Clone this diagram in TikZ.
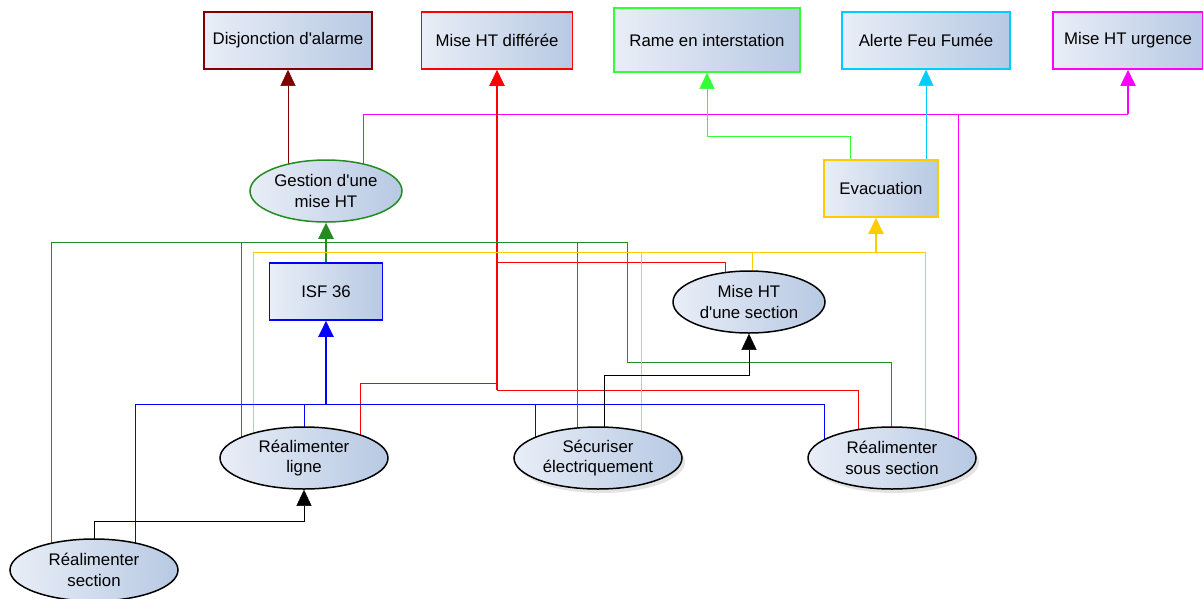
\documentclass[tikz,border=0pt]{standalone}
\usepackage{fontspec}
\setmainfont{Liberation Sans}
\usetikzlibrary{arrows.meta,shadows,backgrounds,calc,shapes.geometric}
\definecolor{dred}{RGB}{128,0,0}
\definecolor{dgreen}{RGB}{34,139,34}
\definecolor{goldx}{RGB}{255,204,0}
\definecolor{lgreen}{RGB}{51,255,51}
\definecolor{cyanx}{RGB}{0,204,255}
\definecolor{magx}{RGB}{255,0,255}
\definecolor{redx}{RGB}{255,0,0}
\definecolor{bluex}{RGB}{0,0,255}
\definecolor{shadeL}{RGB}{233,238,247}
\definecolor{shadeR}{RGB}{183,201,227}
\newcommand\apo{\textquotesingle}
\tikzset{
  every node/.style={font=\fontsize{16.8}{20.5}\selectfont, align=center, inner sep=0pt},
  grad/.style={left color=shadeL, right color=shadeR},
  topbox/.style={rectangle, grad, draw, line width=1.6pt, minimum height=57pt},
  oval/.style={ellipse, grad, draw=black, line width=1.5pt, minimum height=62pt},
  shad/.style={drop shadow={opacity=0.22, shadow xshift=3pt, shadow yshift=-4pt}},
  conn/.style={line width=1.6pt},
  arr/.style={-{Triangle[width=15pt,length=16pt]}},
  trunkline/.style={line width=2.3pt},
}
\begin{document}
\begin{tikzpicture}[x=1pt,y=-1pt]
\useasboundingbox (0,0) rectangle (1203,598);

% top boxes
\node[topbox, draw=dred, minimum width=168pt] (dis) at (288,40.5) {Disjonction d\apo alarme};
\node[topbox, draw=redx, minimum width=151pt] (mhd) at (497,40.5) {Mise HT différée};
\node[topbox, draw=lgreen, minimum width=186pt, minimum height=64pt] (rame) at (707,40) {Rame en interstation};
\node[topbox, draw=cyanx, minimum width=168pt] (afs) at (926,40.5) {Alerte Feu Fumée};
\node[topbox, draw=magx, minimum width=150pt] (mhu) at (1128,40.5) {Mise HT urgence};

% middle
\node[oval, draw=dgreen, minimum width=152pt] (gest) at (326,191) {};
\node (gest-t) at (gest.center) {Gestion d\apo une\\mise HT};
\node[topbox, draw=goldx, minimum width=114pt] (evac) at (881,188.5) {Evacuation};
\node[topbox, draw=bluex, minimum width=113pt] (isf) at (326,291.5) {ISF 36};
\node[oval, minimum width=152pt] (mhs) at (749,302) {};
\node (mhs-t) at (mhs.center) {Mise HT\\d\apo une section};

% bottom
\node[oval, minimum width=168pt] (rl) at (304,458) {};
\node (rl-t) at (rl.center) {Réalimenter\\ligne};
\node[oval, shad, minimum width=168pt] (sec) at (598,458) {};
\node (sec-t) at (sec.center) {Sécuriser\\électriquement};
\node[oval, shad, minimum width=168pt] (rss) at (892,458) {};
\node (rss-t) at (rss.center) {Réalimenter\\sous section};
\node[oval, minimum width=168pt] (rs) at (94,570) {};
\node (rs-t) at (rs.center) {Réalimenter\\section};

\coordinate (jM) at (1128,114);
\coordinate (jR1) at (497,262);
\coordinate (jR2) at (497,383);
\coordinate (jR3) at (497,390);
\coordinate (jG) at (326,242);
\coordinate (jG2) at (627,362);
\coordinate (jY) at (876,252);
\coordinate (jB) at (326,404);
\coordinate (jK1) at (304,521);
\coordinate (jK2) at (749,375);
\coordinate (jL) at (707,136);

\begin{scope}[on background layer, conn]
  % dark red
  \draw[dred, arr] ($(gest.center)+(-38,0)$) -- (dis.south);
  % magenta
  \draw[magx] ($(gest.center)+(37,0)$) |- (jM);
  \draw[magx] ($(rss.center)+(66,0)$) |- (jM);
  \draw[magx, arr, line width=1.9pt] (jM) -- (mhu.south);
  % red
  \draw[redx] ($(mhs.center)+(-24,0)$) |- (jR1);
  \draw[redx] ($(rl.center)+(56,0)$) |- (jR2);
  \draw[redx] ($(rss.center)+(-34,0)$) |- (jR3);
  \draw[redx, arr, trunkline] (jR3) -- (mhd.south);
  % dark green
  \draw[dgreen] ($(rs.center)+(-43,0)$) |- (jG);
  \draw[dgreen] ($(rl.center)+(-63,0)$) |- (jG);
  \draw[dgreen] ($(sec.center)+(-21,0)$) |- (jG);
  \draw[dgreen] ($(rss.center)+(-1,0)$) |- (jG2) |- (jG);
  \draw[dgreen, arr, trunkline] (isf.north) -- (gest.south);
  % gold
  \draw[goldx] ($(rl.center)+(-51,0)$) |- (jY);
  \draw[goldx] ($(sec.center)+(43,0)$) |- (jY);
  \draw[goldx] ($(mhs.center)+(3,0)$) |- (jY);
  \draw[goldx] ($(rss.center)+(33,0)$) |- (jY);
  \draw[goldx, arr, trunkline] (jY) -- (jY |- evac.south);
  % blue
  \draw[bluex] ($(rs.center)+(41,0)$) |- (jB);
  \draw[bluex] (rl.center) |- (jB);
  \draw[bluex] ($(sec.center)+(-63,0)$) |- (jB);
  \draw[bluex] ($(rss.center)+(-68,0)$) |- (jB);
  \draw[bluex, arr, trunkline] (jB) -- (isf.south);
  % black
  \draw[black, arr] (rs.center) |- (jK1) -- (rl.south);
  \draw[black, arr] ($(sec.center)+(6,0)$) |- (jK2) -- (mhs.south);
  % evacuation outputs
  \draw[lgreen, arr] ($(evac.center)+(-31,0)$) |- (jL) -- (rame.south);
  \draw[cyanx, arr] ($(evac.center)+(45,0)$) -- (afs.south);
\end{scope}
\end{tikzpicture}
\end{document}
